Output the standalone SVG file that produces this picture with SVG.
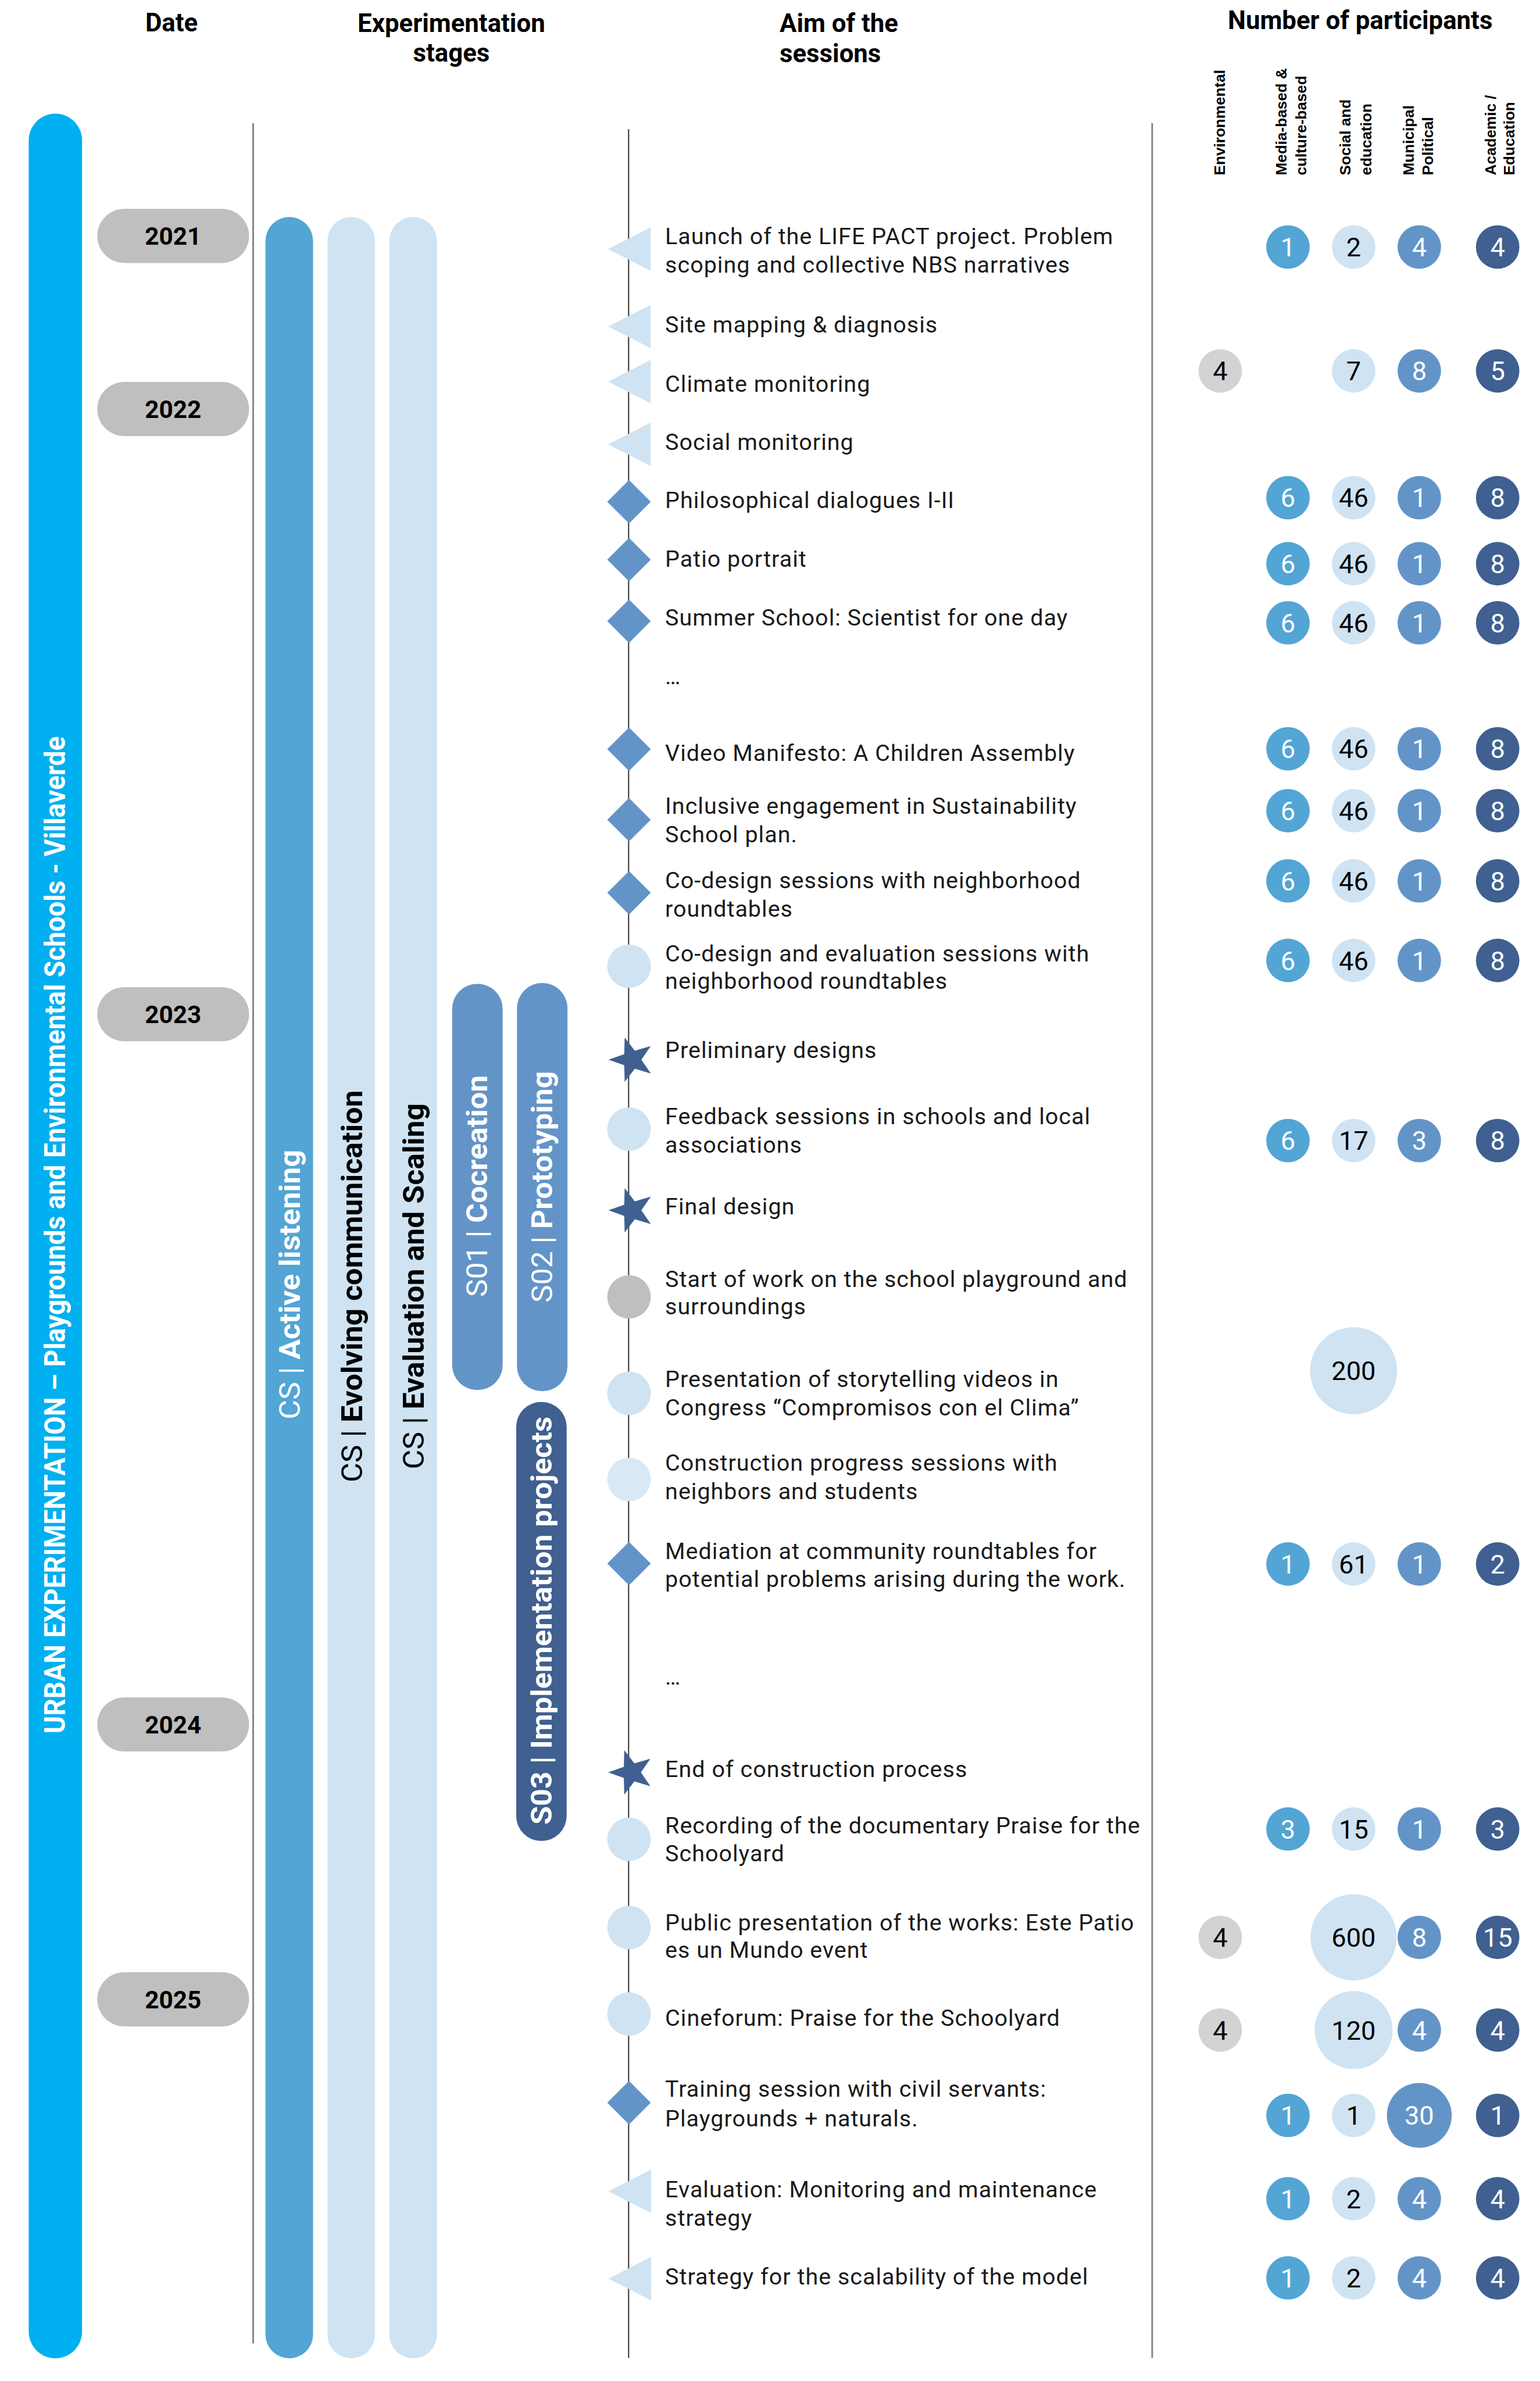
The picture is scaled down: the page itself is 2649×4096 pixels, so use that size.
<svg xmlns="http://www.w3.org/2000/svg" width="2649" height="4096" viewBox="0 0 2649 4096">
<style>
.hdr{font-family:Roboto,"Liberation Sans",sans-serif;font-weight:700;font-size:62px;fill:#000}
.cat{font-family:"Liberation Sans",Arial,sans-serif;font-weight:700;font-size:37px;fill:#000}
.yr{font-family:Roboto,"Liberation Sans",sans-serif;font-weight:700;font-size:60px;fill:#000;text-anchor:middle}
.pill{fill:#bfbfbf}
.ses{font-family:Roboto,"Liberation Sans",sans-serif;font-size:56px;letter-spacing:1.4px;fill:#1a1a1a}
.num{font-family:Roboto,"Liberation Sans",sans-serif;font-size:64px;text-anchor:middle}
.vt{font-family:Roboto,"Liberation Sans",sans-serif;font-size:72px;text-anchor:middle}
.b{font-weight:700}
.w{fill:#fff}
.k{fill:#000}
.cg{fill:#d3d3d3}
.cm{fill:#52a5d4}
.cl{fill:#cfe3f2}
.cu{fill:#6394c8}
.cd{fill:#3f6090}
.divl{stroke:#808080;stroke-width:4}
.tl{stroke:#3a3a3a;stroke-width:3}
</style>
<defs>
<polygon id="tri" points="54,-53 54,53 -50,0" fill="#cfe3f2"/>
<polygon id="dia" points="0,-53 53,0 0,53 -53,0" fill="#6394c8"/>
<circle id="dot" r="53" fill="#cfe3f2"/>
<polygon id="star" points="-57,0 -18.6,-13.5 -17.6,-54.2 7.1,-21.9 46.1,-33.5 23,0 46.1,33.5 7.1,21.9 -17.6,54.2 -18.6,13.5" fill="#3f6090"/>
</defs>
<rect width="2649" height="4096" fill="#fff"/>
<g transform="scale(0.7058)">

<g id="headers">
<text class="hdr" x="418" y="76" text-anchor="middle">Date</text>
<text class="hdr" x="1100" y="78" text-anchor="middle">Experimentation</text>
<text class="hdr" x="1100" y="150" text-anchor="middle">stages</text>
<text class="hdr" x="1900" y="78">Aim of the</text>
<text class="hdr" x="1900" y="152">sessions</text>
<text class="hdr" x="3315" y="71" text-anchor="middle">Number of participants</text>
<text class="cat" transform="translate(2985,427) rotate(-90)">Environmental</text>
<text class="cat" transform="translate(3135,427) rotate(-90)">Media-based &amp;</text>
<text class="cat" transform="translate(3184,427) rotate(-90)">culture-based</text>
<text class="cat" transform="translate(3291,427) rotate(-90)">Social and</text>
<text class="cat" transform="translate(3343,427) rotate(-90)">education</text>
<text class="cat" transform="translate(3446,427) rotate(-90)">Municipal</text>
<text class="cat" transform="translate(3493,427) rotate(-90)">Political</text>
<text class="cat" transform="translate(3645,427) rotate(-90)">Academic /</text>
<text class="cat" transform="translate(3691,427) rotate(-90)">Education</text>
</g>

<g id="connectors">
<line class="divl" x1="617" y1="300" x2="617" y2="5712"/>
<line class="divl" x1="2808" y1="300" x2="2808" y2="5747"/>
<line class="tl" x1="1532" y1="315" x2="1532" y2="5747"/>
</g>

<g id="urban">
<rect x="70" y="277" width="130" height="5471" rx="65" fill="#00b0f0"/>
<text class="vt b w" font-size="64" transform="translate(158,3010) rotate(-90)" textLength="2431" lengthAdjust="spacingAndGlyphs">URBAN EXPERIMENTATION – Playgrounds and Environmental Schools - Villaverde</text>
</g>

<g id="years">
<g id="y2021"><rect class="pill" x="237" y="509" width="370" height="132" rx="66"/><text class="yr" x="422" y="597">2021</text></g>
<g id="y2022"><rect class="pill" x="237" y="931" width="370" height="132" rx="66"/><text class="yr" x="422" y="1019">2022</text></g>
<g id="y2023"><rect class="pill" x="237" y="2406" width="370" height="132" rx="66"/><text class="yr" x="422" y="2494">2023</text></g>
<g id="y2024"><rect class="pill" x="237" y="4137" width="370" height="132" rx="66"/><text class="yr" x="422" y="4225">2024</text></g>
<g id="y2025"><rect class="pill" x="237" y="4807" width="370" height="132" rx="66"/><text class="yr" x="422" y="4895">2025</text></g>
</g>

<g id="stages">
<g id="st-active"><rect x="647" y="529" width="116" height="5219" rx="58" fill="#52a5d4"/>
<text class="vt w" transform="translate(731,3131) rotate(-90)" textLength="657" lengthAdjust="spacingAndGlyphs">CS | <tspan class="b">Active listening</tspan></text></g>
<g id="st-evolving"><rect x="798" y="529" width="116" height="5219" rx="58" fill="#cfe3f2"/>
<text class="vt k" transform="translate(882,3135) rotate(-90)" textLength="956" lengthAdjust="spacingAndGlyphs">CS | <tspan class="b">Evolving communication</tspan></text></g>
<g id="st-eval"><rect x="949" y="529" width="116" height="5219" rx="58" fill="#cfe3f2"/>
<text class="vt k" transform="translate(1033,3135) rotate(-90)" textLength="892" lengthAdjust="spacingAndGlyphs">CS | <tspan class="b">Evaluation and Scaling</tspan></text></g>
<g id="st-s01"><rect x="1102" y="2398" width="123" height="990" rx="61" fill="#6394c8"/>
<text class="vt w" font-size="68" transform="translate(1188,2891) rotate(-90)" textLength="541" lengthAdjust="spacingAndGlyphs">S01 | <tspan class="b">Cocreation</tspan></text></g>
<g id="st-s02"><rect x="1260" y="2396" width="123" height="995" rx="61" fill="#6394c8"/>
<text class="vt w" font-size="68" transform="translate(1346,2893) rotate(-90)" textLength="564" lengthAdjust="spacingAndGlyphs">S02 | <tspan class="b">Prototyping</tspan></text></g>
<g id="st-s03"><rect x="1258" y="3417" width="123" height="1070" rx="61" fill="#3f6090"/>
<text class="vt w b" font-size="70" transform="translate(1344,3950) rotate(-90)" textLength="995" lengthAdjust="spacingAndGlyphs">S03 | Implementation projects</text></g>
</g>

<g id="sessions">
<g id="s1"><use href="#tri" x="1532" y="607"/><text class="ses" x="1621" y="595">Launch of the LIFE PACT project. Problem<tspan x="1621" y="664">scoping and collective NBS narratives</tspan></text></g>
<g id="s2"><use href="#tri" x="1532" y="796"/><text class="ses" x="1621" y="810">Site mapping &amp; diagnosis</text></g>
<g id="s3"><use href="#tri" x="1532" y="930"/><text class="ses" x="1621" y="955">Climate monitoring</text></g>
<g id="s4"><use href="#tri" x="1532" y="1083"/><text class="ses" x="1621" y="1097">Social monitoring</text></g>
<g id="s5"><use href="#dia" x="1533" y="1223"/><text class="ses" x="1621" y="1238">Philosophical dialogues I-II</text></g>
<g id="s6"><use href="#dia" x="1533" y="1364"/><text class="ses" x="1621" y="1382">Patio portrait</text></g>
<g id="s7"><use href="#dia" x="1533" y="1514"/><text class="ses" x="1621" y="1525">Summer School: Scientist for one day</text></g>
<g id="s8"><text class="ses" x="1621" y="1668">…</text></g>
<g id="s9"><use href="#dia" x="1533" y="1826"/><text class="ses" x="1621" y="1855">Video Manifesto: A Children Assembly</text></g>
<g id="s10"><use href="#dia" x="1533" y="1998"/><text class="ses" x="1621" y="1984">Inclusive engagement in Sustainability<tspan x="1621" y="2053">School plan.</tspan></text></g>
<g id="s11"><use href="#dia" x="1533" y="2176"/><text class="ses" x="1621" y="2165">Co-design sessions with neighborhood<tspan x="1621" y="2234">roundtables</tspan></text></g>
<g id="s12"><use href="#dot" x="1533" y="2355"/><text class="ses" x="1621" y="2343">Co-design and evaluation sessions with<tspan x="1621" y="2410">neighborhood roundtables</tspan></text></g>
<g id="s13"><use href="#star" x="1540" y="2583"/><text class="ses" x="1621" y="2579">Preliminary designs</text></g>
<g id="s14"><use href="#dot" x="1533" y="2752"/><text class="ses" x="1621" y="2740">Feedback sessions in schools and local<tspan x="1621" y="2809">associations</tspan></text></g>
<g id="s15"><use href="#star" x="1540" y="2950"/><text class="ses" x="1621" y="2960">Final design</text></g>
<g id="s16"><circle cx="1533" cy="3161" r="53" fill="#bfbfbf"/><text class="ses" x="1621" y="3137">Start of work on the school playground and<tspan x="1621" y="3204">surroundings</tspan></text></g>
<g id="s17"><use href="#dot" x="1533" y="3396"/><text class="ses" x="1621" y="3381">Presentation of storytelling videos in<tspan x="1621" y="3450">Congress “Compromisos con el Clima”</tspan></text></g>
<g id="s18"><circle cx="1533" cy="3606" r="53" fill="#d9e8f5"/><text class="ses" x="1621" y="3584">Construction progress sessions with<tspan x="1621" y="3654">neighbors and students</tspan></text></g>
<g id="s19"><use href="#dia" x="1533" y="3811"/><text class="ses" x="1621" y="3800">Mediation at community roundtables for<tspan x="1621" y="3868">potential problems arising during the work.</tspan></text></g>
<g id="s20"><text class="ses" x="1621" y="4106">…</text></g>
<g id="s21"><use href="#star" x="1539" y="4320"/><text class="ses" x="1621" y="4331">End of construction process</text></g>
<g id="s22"><use href="#dot" x="1533" y="4483"/><text class="ses" x="1621" y="4468">Recording of the documentary Praise for the<tspan x="1621" y="4537">Schoolyard</tspan></text></g>
<g id="s23"><use href="#dot" x="1533" y="4698"/><text class="ses" x="1621" y="4706">Public presentation of the works: Este Patio<tspan x="1621" y="4772">es un Mundo event</tspan></text></g>
<g id="s24"><use href="#dot" x="1533" y="4909"/><text class="ses" x="1621" y="4937">Cineforum: Praise for the Schoolyard</text></g>
<g id="s25"><use href="#dia" x="1533" y="5125"/><text class="ses" x="1621" y="5111">Training session with civil servants:<tspan x="1621" y="5183">Playgrounds + naturals.</tspan></text></g>
<g id="s26"><use href="#tri" x="1533" y="5341"/><text class="ses" x="1621" y="5356">Evaluation: Monitoring and maintenance<tspan x="1621" y="5425">strategy</tspan></text></g>
<g id="s27"><use href="#tri" x="1533" y="5554"/><text class="ses" x="1621" y="5568">Strategy for the scalability of the model</text></g>
</g>

<g id="participants">
<g id="p1"><circle class="cm" cx="3139" cy="602" r="53"/><text class="num w" x="3139" y="625">1</text><circle class="cl" cx="3299" cy="602" r="53"/><text class="num k" x="3299" y="625">2</text><circle class="cu" cx="3459" cy="602" r="53"/><text class="num w" x="3459" y="625">4</text><circle class="cd" cx="3650" cy="602" r="53"/><text class="num w" x="3650" y="625">4</text></g>
<g id="p2"><circle class="cg" cx="2974" cy="904" r="53"/><text class="num k" x="2974" y="927">4</text><circle class="cl" cx="3299" cy="904" r="53"/><text class="num k" x="3299" y="927">7</text><circle class="cu" cx="3459" cy="904" r="53"/><text class="num w" x="3459" y="927">8</text><circle class="cd" cx="3650" cy="904" r="53"/><text class="num w" x="3650" y="927">5</text></g>
<g id="p3"><circle class="cm" cx="3139" cy="1213" r="53"/><text class="num w" x="3139" y="1236">6</text><circle class="cl" cx="3299" cy="1213" r="53"/><text class="num k" x="3299" y="1236">46</text><circle class="cu" cx="3459" cy="1213" r="53"/><text class="num w" x="3459" y="1236">1</text><circle class="cd" cx="3650" cy="1213" r="53"/><text class="num w" x="3650" y="1236">8</text></g>
<g id="p4"><circle class="cm" cx="3139" cy="1374" r="53"/><text class="num w" x="3139" y="1397">6</text><circle class="cl" cx="3299" cy="1374" r="53"/><text class="num k" x="3299" y="1397">46</text><circle class="cu" cx="3459" cy="1374" r="53"/><text class="num w" x="3459" y="1397">1</text><circle class="cd" cx="3650" cy="1374" r="53"/><text class="num w" x="3650" y="1397">8</text></g>
<g id="p5"><circle class="cm" cx="3139" cy="1518" r="53"/><text class="num w" x="3139" y="1541">6</text><circle class="cl" cx="3299" cy="1518" r="53"/><text class="num k" x="3299" y="1541">46</text><circle class="cu" cx="3459" cy="1518" r="53"/><text class="num w" x="3459" y="1541">1</text><circle class="cd" cx="3650" cy="1518" r="53"/><text class="num w" x="3650" y="1541">8</text></g>
<g id="p6"><circle class="cm" cx="3139" cy="1825" r="53"/><text class="num w" x="3139" y="1848">6</text><circle class="cl" cx="3299" cy="1825" r="53"/><text class="num k" x="3299" y="1848">46</text><circle class="cu" cx="3459" cy="1825" r="53"/><text class="num w" x="3459" y="1848">1</text><circle class="cd" cx="3650" cy="1825" r="53"/><text class="num w" x="3650" y="1848">8</text></g>
<g id="p7"><circle class="cm" cx="3139" cy="1976" r="53"/><text class="num w" x="3139" y="1999">6</text><circle class="cl" cx="3299" cy="1976" r="53"/><text class="num k" x="3299" y="1999">46</text><circle class="cu" cx="3459" cy="1976" r="53"/><text class="num w" x="3459" y="1999">1</text><circle class="cd" cx="3650" cy="1976" r="53"/><text class="num w" x="3650" y="1999">8</text></g>
<g id="p8"><circle class="cm" cx="3139" cy="2147" r="53"/><text class="num w" x="3139" y="2170">6</text><circle class="cl" cx="3299" cy="2147" r="53"/><text class="num k" x="3299" y="2170">46</text><circle class="cu" cx="3459" cy="2147" r="53"/><text class="num w" x="3459" y="2170">1</text><circle class="cd" cx="3650" cy="2147" r="53"/><text class="num w" x="3650" y="2170">8</text></g>
<g id="p9"><circle class="cm" cx="3139" cy="2341" r="53"/><text class="num w" x="3139" y="2364">6</text><circle class="cl" cx="3299" cy="2341" r="53"/><text class="num k" x="3299" y="2364">46</text><circle class="cu" cx="3459" cy="2341" r="53"/><text class="num w" x="3459" y="2364">1</text><circle class="cd" cx="3650" cy="2341" r="53"/><text class="num w" x="3650" y="2364">8</text></g>
<g id="p10"><circle class="cm" cx="3139" cy="2780" r="53"/><text class="num w" x="3139" y="2803">6</text><circle class="cl" cx="3299" cy="2780" r="53"/><text class="num k" x="3299" y="2803">17</text><circle class="cu" cx="3459" cy="2780" r="53"/><text class="num w" x="3459" y="2803">3</text><circle class="cd" cx="3650" cy="2780" r="53"/><text class="num w" x="3650" y="2803">8</text></g>
<g id="p11"><circle class="cl" cx="3299" cy="3341" r="106"/><text class="num k" x="3299" y="3364">200</text></g>
<g id="p12"><circle class="cm" cx="3139" cy="3812" r="53"/><text class="num w" x="3139" y="3835">1</text><circle class="cl" cx="3299" cy="3812" r="53"/><text class="num k" x="3299" y="3835">61</text><circle class="cu" cx="3459" cy="3812" r="53"/><text class="num w" x="3459" y="3835">1</text><circle class="cd" cx="3650" cy="3812" r="53"/><text class="num w" x="3650" y="3835">2</text></g>
<g id="p13"><circle class="cm" cx="3139" cy="4458" r="53"/><text class="num w" x="3139" y="4481">3</text><circle class="cl" cx="3299" cy="4458" r="53"/><text class="num k" x="3299" y="4481">15</text><circle class="cu" cx="3459" cy="4458" r="53"/><text class="num w" x="3459" y="4481">1</text><circle class="cd" cx="3650" cy="4458" r="53"/><text class="num w" x="3650" y="4481">3</text></g>
<g id="p14"><circle class="cg" cx="2974" cy="4722" r="53"/><text class="num k" x="2974" y="4745">4</text><circle class="cl" cx="3299" cy="4722" r="105"/><text class="num k" x="3299" y="4745">600</text><circle class="cu" cx="3459" cy="4722" r="53"/><text class="num w" x="3459" y="4745">8</text><circle class="cd" cx="3650" cy="4722" r="53"/><text class="num w" x="3650" y="4745">15</text></g>
<g id="p15"><circle class="cg" cx="2974" cy="4948" r="53"/><text class="num k" x="2974" y="4971">4</text><circle class="cl" cx="3299" cy="4948" r="95"/><text class="num k" x="3299" y="4971">120</text><circle class="cu" cx="3459" cy="4948" r="53"/><text class="num w" x="3459" y="4971">4</text><circle class="cd" cx="3650" cy="4948" r="53"/><text class="num w" x="3650" y="4971">4</text></g>
<g id="p16"><circle class="cm" cx="3139" cy="5156" r="53"/><text class="num w" x="3139" y="5179">1</text><circle class="cl" cx="3299" cy="5156" r="53"/><text class="num k" x="3299" y="5179">1</text><circle class="cu" cx="3459" cy="5156" r="79"/><text class="num w" x="3459" y="5179">30</text><circle class="cd" cx="3650" cy="5156" r="53"/><text class="num w" x="3650" y="5179">1</text></g>
<g id="p17"><circle class="cm" cx="3139" cy="5359" r="53"/><text class="num w" x="3139" y="5382">1</text><circle class="cl" cx="3299" cy="5359" r="53"/><text class="num k" x="3299" y="5382">2</text><circle class="cu" cx="3459" cy="5359" r="53"/><text class="num w" x="3459" y="5382">4</text><circle class="cd" cx="3650" cy="5359" r="53"/><text class="num w" x="3650" y="5382">4</text></g>
<g id="p18"><circle class="cm" cx="3139" cy="5552" r="53"/><text class="num w" x="3139" y="5575">1</text><circle class="cl" cx="3299" cy="5552" r="53"/><text class="num k" x="3299" y="5575">2</text><circle class="cu" cx="3459" cy="5552" r="53"/><text class="num w" x="3459" y="5575">4</text><circle class="cd" cx="3650" cy="5552" r="53"/><text class="num w" x="3650" y="5575">4</text></g>
</g>

</g>
</svg>
